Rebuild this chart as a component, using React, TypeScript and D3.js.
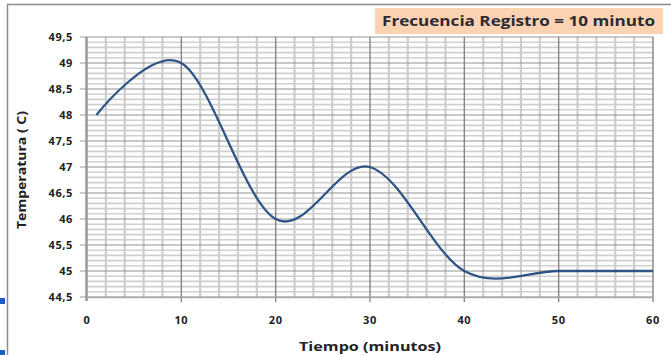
import React from "react";
import * as d3 from "d3";

const timeMinutes = [1, 10, 20, 30, 40, 50, 60];
const temperature = [48, 49, 46, 47, 45, 45, 45];
const xTicks = [0, 10, 20, 30, 40, 50, 60];
const yTicks = [44.5, 45, 45.5, 46, 46.5, 47, 47.5, 48, 48.5, 49, 49.5];
const titleText = "Frecuencia Registro = 10 minuto";
const xTitle = "Tiempo (minutos)";
const yTitle = "Temperatura ( C)";

const W = 671;
const H = 355;
const left = 87;
const right = 653;
const top = 37;
const bottom = 297;

export default function App() {
  const x = d3.scaleLinear().domain([0, 60]).range([left, right]);
  const y = d3.scaleLinear().domain([44.5, 49.5]).range([bottom, top]);
  const minorX = d3.range(0, 61, 2).filter((v) => v % 10 !== 0);
  const minorY = d3.range(0, 51).map((i) => 44.5 + i * 0.1).filter((_, i) => i % 5 !== 0);
  const line = d3
    .line<number>()
    .x((_, i) => x(timeMinutes[i]))
    .y((d) => y(d))
    .curve(d3.curveCardinal.tension(0));
  const font = "'Open Sans', 'DejaVu Sans', sans-serif";
  const fmt = (v: number) => String(v).replace(".", ",");
  return (
    <svg
      width={W}
      height={H}
      style={{ position: "absolute", left: 0, top: 0, background: "#fff" }}
      fontFamily={font}
    >
      <rect x={0} y={0} width={W} height={H} fill="#fff" />
      {/* chart frame */}
      <path d={`M7.5,${H + 2} V4.5 H${W + 2}`} fill="none" stroke="#8c8c8c" strokeWidth={1.5} />
      <rect x={0} y={298} width={5} height={6} fill="#1f5fc4" />
      <rect x={0} y={350} width={5} height={6} fill="#1f5fc4" />
      {/* title box */}
      <rect x={375} y={8} width={288} height={26} fill="#fbd3b3" />
      <text
        x={382}
        y={26}
        fontSize={13.5}
        fontWeight="bold"
        fill="#2a2a35"
        textLength={273}
        lengthAdjust="spacingAndGlyphs"
      >
        {titleText}
      </text>
      {/* minor grid */}
      {minorY.map((v, i) => (
        <line key={"my" + i} x1={left} x2={right} y1={y(v)} y2={y(v)} stroke="#d0d0d0" strokeWidth={1.6} />
      ))}
      {minorX.map((v) => (
        <line key={"mx" + v} x1={x(v)} x2={x(v)} y1={top} y2={bottom} stroke="#cdcdcd" strokeWidth={2.2} />
      ))}
      {/* major grid */}
      {yTicks.map((v) => (
        <line key={"gy" + v} x1={left} x2={right} y1={y(v)} y2={y(v)} stroke="#949494" strokeWidth={1.2} />
      ))}
      {xTicks.slice(1).map((v) => (
        <line key={"gx" + v} x1={x(v)} x2={x(v)} y1={top} y2={bottom + 5} stroke="#858585" strokeWidth={1.4} />
      ))}
      {/* axes */}
      <line x1={left - 0.5} x2={left - 0.5} y1={top} y2={bottom + 4} stroke="#999" strokeWidth={2.5} />
      <line x1={left} x2={right} y1={bottom + 0.5} y2={bottom + 0.5} stroke="#aaa" strokeWidth={1.6} />
      {yTicks.map((v) => (
        <line key={"ty" + v} x1={left - 7} x2={left} y1={y(v)} y2={y(v)} stroke="#999" strokeWidth={1} />
      ))}
      {/* y tick labels */}
      {yTicks.map((v) => (
        <text
          key={"ly" + v}
          x={73}
          y={y(v) + 4}
          textAnchor="end"
          fontSize={11}
          fontWeight="bold"
          fill="#222"
          letterSpacing={0.6}
        >
          {fmt(v)}
        </text>
      ))}
      {/* x tick labels */}
      {xTicks.map((v) => (
        <text
          key={"lx" + v}
          x={x(v)}
          y={324}
          textAnchor="middle"
          fontSize={11}
          fontWeight="bold"
          fill="#222"
          letterSpacing={0.6}
        >
          {v}
        </text>
      ))}
      {/* axis titles */}
      <text
        x={370}
        y={351}
        textAnchor="middle"
        fontSize={12.5}
        fontWeight="bold"
        fill="#222"
        textLength={142}
        lengthAdjust="spacingAndGlyphs"
      >
        {xTitle}
      </text>
      <text
        transform={`translate(26,170) rotate(-90)`}
        textAnchor="middle"
        fontSize={11.5}
        fontWeight="bold"
        fill="#222"
        textLength={118}
        lengthAdjust="spacingAndGlyphs"
      >
        {yTitle}
      </text>
      {/* data line */}
      <path d={line(temperature) || ""} fill="none" stroke="#2f5486" strokeWidth={2.3} />
    </svg>
  );
}
